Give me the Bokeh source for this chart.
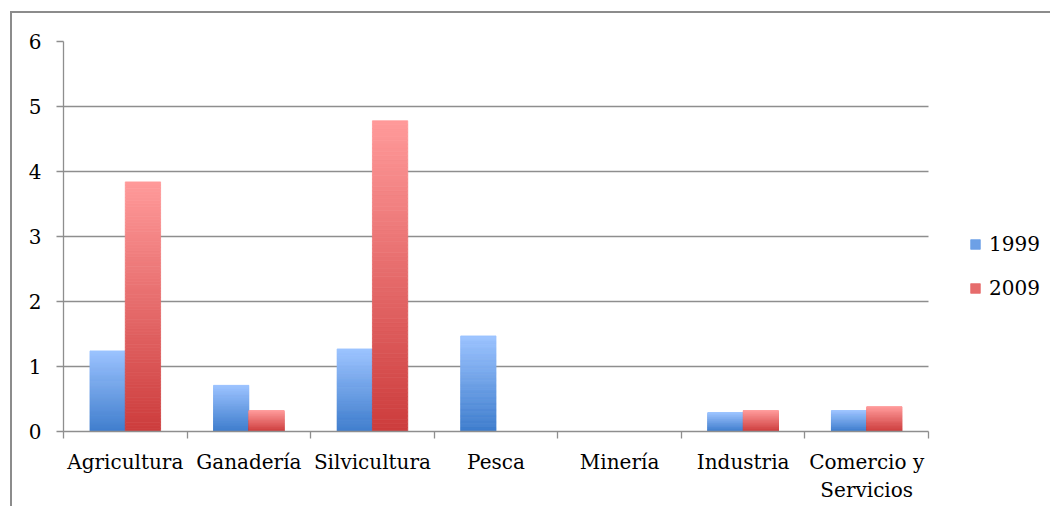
from bokeh.plotting import figure
from bokeh.models import ColumnDataSource, FixedTicker, Legend, LegendItem, Range1d
from bokeh.embed import file_html
from bokeh.resources import INLINE

categories = ["Agricultura", "Ganadería", "Silvicultura", "Pesca", "Minería",
              "Industria", "Comercio y\nServicios"]
values_1999 = [1.24, 0.71, 1.27, 1.47, 0.0, 0.29, 0.32]
values_2009 = [3.84, 0.32, 4.78, 0.0, 0.0, 0.32, 0.38]
series = ["1999", "2009"]
y_ticks = [0, 1, 2, 3, 4, 5, 6]

FONT = "DejaVu Serif"
GRID = "#8e8e8e"
# (top colour, bottom colour) of the vertical gradients
grad = {
    "1999": ((0x9c, 0xc3, 0xff), (0x3d, 0x7c, 0xcc)),
    "2009": ((0xff, 0x9a, 0x9a), (0xcc, 0x3c, 0x3c)),
}

N = 80
bar_w = 1 / 3.5
offsets = {"1999": -bar_w / 2, "2009": bar_w / 2}

W, H = 1040, 495
LEFT, PLOT_W = 51, 865          # plot area (categories) in pixels
n = len(categories)
x_start, x_stop = -0.5, n - 0.5
x_end = x_start + n * (W - LEFT) / PLOT_W   # frame extended to hold legend


def hexcol(c):
    return "#%02x%02x%02x" % tuple(int(round(v)) for v in c)


def slices(vals, name):
    top_c, bot_c = grad[name]
    L, R, B, T, C = [], [], [], [], []
    for i, v in enumerate(vals):
        if v <= 0:
            continue
        xc = i + offsets[name]
        for k in range(N):
            t = (k + 0.5) / N
            col = tuple(bot_c[j] + (top_c[j] - bot_c[j]) * t for j in range(3))
            L.append(xc - bar_w / 2)
            R.append(xc + bar_w / 2)
            B.append(v * k / N)
            T.append(v * (k + 1) / N)
            C.append(hexcol(col))
    return ColumnDataSource(dict(left=L, right=R, bottom=B, top=T, color=C))


p = figure(width=W, height=H,
           x_range=Range1d(x_start, x_end), y_range=Range1d(0, 6),
           output_backend="svg", toolbar_location=None,
           min_border_left=LEFT, min_border_right=0, min_border_top=28, min_border_bottom=77)
p.styles = {"margin-left": "10px", "margin-top": "11px",
            "border-left": "2px solid #8c8c8c", "border-top": "2px solid #8c8c8c"}
p.outline_line_color = None
p.xgrid.visible = False
p.ygrid.grid_line_color = GRID
p.ygrid.grid_line_width = 1.3
p.ygrid.ticker = FixedTicker(ticks=y_ticks)
p.ygrid.cross_bounds = (x_start, x_stop)

renderers = {}
for name, vals in (("1999", values_1999), ("2009", values_2009)):
    src = slices(vals, name)
    renderers[name] = p.quad(left="left", right="right", bottom="bottom", top="top", source=src,
                             fill_color="color", line_color="color", line_width=0.8)

yax = p.yaxis[0]
yax.ticker = FixedTicker(ticks=y_ticks)
yax.axis_line_color = GRID
yax.axis_line_width = 1.3
yax.major_tick_line_color = GRID
yax.major_tick_line_width = 1.3
yax.major_tick_out = 7
yax.major_tick_in = 0
yax.minor_tick_line_color = None
yax.major_label_text_font = FONT
yax.major_label_text_font_size = "20px"
yax.major_label_text_color = "#000000"
yax.major_label_standoff = 15

xax = p.xaxis[0]
xax.bounds = (x_start, x_stop)
xax.ticker = FixedTicker(ticks=list(range(n)),
                         minor_ticks=[i - 0.5 for i in range(n + 1)])
xax.major_label_overrides = {i: c for i, c in enumerate(categories)}
xax.axis_line_color = GRID
xax.axis_line_width = 1.3
xax.major_tick_line_color = None
xax.major_tick_out = 0
xax.major_tick_in = 0
xax.minor_tick_line_color = GRID
xax.minor_tick_line_width = 1.3
xax.minor_tick_out = 7
xax.minor_tick_in = 0
xax.major_label_text_font = FONT
xax.major_label_text_font_size = "20px"
xax.major_label_text_color = "#000000"
xax.major_label_standoff = 11

legend = Legend(items=[LegendItem(label=series[0], renderers=[renderers["1999"]], index=N // 2),
                       LegendItem(label=series[1], renderers=[renderers["2009"]], index=N // 2)],
                location=(906, 131))
legend.label_text_font = FONT
legend.label_text_font_size = "20px"
legend.label_text_color = "#000000"
legend.glyph_width = 12
legend.glyph_height = 12
legend.label_standoff = 8
legend.spacing = 20
legend.padding = 0
legend.margin = 0
legend.border_line_color = None
legend.background_fill_alpha = 0
p.add_layout(legend)

open("out.html", "w").write(file_html(p, INLINE))
